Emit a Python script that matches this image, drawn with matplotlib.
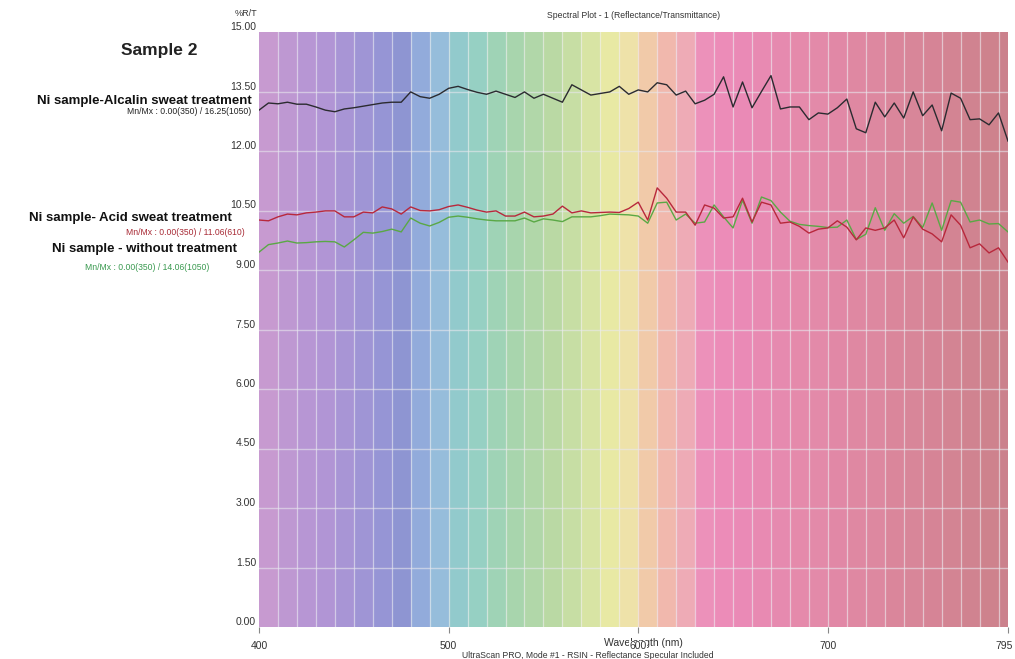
import matplotlib.pyplot as plt
import numpy as np

plt.rcParams['font.family'] = ['Liberation Sans', 'DejaVu Sans']

# wavelengths every 5 nm
wavelength = list(range(400, 800, 5))

alcalin = [13.03, 13.21, 13.19, 13.23, 13.18, 13.18, 13.11, 13.03, 12.99, 13.06,
           13.09, 13.13, 13.17, 13.21, 13.23, 13.23, 13.49, 13.37, 13.33, 13.43,
           13.58, 13.63, 13.55, 13.48, 13.43, 13.51, 13.43, 13.35, 13.49, 13.33,
           13.43, 13.33, 13.23, 13.67, 13.54, 13.41, 13.45, 13.49, 13.63, 13.43,
           13.54, 13.49, 13.72, 13.67, 13.41, 13.51, 13.19, 13.28, 13.43, 13.87,
           13.11, 13.74, 13.09, 13.50, 13.90, 13.06, 13.11, 13.11, 12.79, 12.96,
           12.93, 13.09, 13.31, 12.56, 12.46, 13.23, 12.86, 13.21, 12.83, 13.49,
           12.89, 13.16, 12.51, 13.46, 13.33, 12.79, 12.81, 12.66, 12.96, 12.25]

acid = [10.26, 10.24, 10.34, 10.41, 10.39, 10.44, 10.46, 10.49, 10.49, 10.34,
        10.34, 10.46, 10.44, 10.59, 10.54, 10.41, 10.59, 10.50, 10.49, 10.52,
        10.60, 10.64, 10.58, 10.51, 10.46, 10.49, 10.36, 10.36, 10.46, 10.34,
        10.36, 10.41, 10.61, 10.44, 10.49, 10.44, 10.45, 10.46, 10.45, 10.55,
        10.71, 10.26, 11.07, 10.81, 10.46, 10.46, 10.13, 10.64, 10.56, 10.31,
        10.34, 10.81, 10.21, 10.71, 10.64, 10.18, 10.21, 10.10, 9.93, 10.03,
        10.06, 10.24, 10.08, 9.76, 10.06, 10.00, 10.06, 10.26, 9.81, 10.34,
        10.03, 9.91, 9.71, 10.39, 10.13, 9.56, 9.66, 9.43, 9.56, 9.20]

untreated = [9.45, 9.64, 9.68, 9.73, 9.68, 9.69, 9.71, 9.72, 9.71, 9.58,
             9.76, 9.95, 9.93, 9.97, 10.03, 9.96, 10.31, 10.18, 10.11, 10.20,
             10.33, 10.36, 10.33, 10.29, 10.26, 10.24, 10.24, 10.24, 10.31, 10.21,
             10.29, 10.26, 10.22, 10.34, 10.34, 10.34, 10.37, 10.41, 10.40, 10.39,
             10.36, 10.18, 10.69, 10.71, 10.26, 10.41, 10.18, 10.21, 10.64, 10.34,
             10.06, 10.76, 10.18, 10.84, 10.75, 10.46, 10.23, 10.15, 10.12, 10.10,
             10.07, 10.08, 10.26, 9.77, 9.90, 10.57, 10.00, 10.42, 10.18, 10.35,
             10.07, 10.69, 10.00, 10.75, 10.71, 10.21, 10.26, 10.16, 10.17, 9.96]

# spectrum colour bands, 10 nm wide
band_start = list(range(400, 800, 10))
band_rgb = [(200, 150, 210), (190, 148, 212), (182, 146, 214), (175, 145, 215), (165, 145, 215),
            (155, 145, 215), (145, 145, 215), (135, 145, 212), (140, 170, 222), (145, 190, 222),
            (140, 205, 205), (145, 212, 195), (155, 215, 180), (165, 218, 170), (175, 220, 165),
            (185, 222, 160), (200, 228, 160), (220, 235, 160), (238, 240, 160), (245, 232, 165),
            (248, 205, 165), (248, 185, 170), (245, 170, 180), (242, 140, 185), (242, 135, 182),
            (240, 132, 180), (238, 132, 176), (236, 132, 172), (234, 132, 168), (232, 132, 165),
            (230, 130, 162), (228, 130, 158), (225, 130, 155), (222, 128, 150), (220, 128, 147),
            (217, 126, 144), (214, 125, 140), (211, 124, 137), (208, 123, 134), (205, 122, 132)]

y_ticks = [0, 1.5, 3, 4.5, 6, 7.5, 9, 10.5, 12, 13.5, 15]
x_ticks = [400, 500, 600, 700, 795]

W, H = 1015, 659
fig = plt.figure(figsize=(W / 100, H / 100), dpi=100)
ax = fig.add_axes([259 / W, 32 / H, 749 / W, 595 / H])

# slightly washed-out look of the scanned plot
grey = np.array([190, 180, 195]) / 255
for s, c in zip(band_start, band_rgb):
    col = 0.88 * np.array(c) / 255 + 0.12 * grey
    ax.axvspan(s, min(s + 10, 795), color=col, lw=0)
for s in band_start[1:]:
    ax.axvline(s, color='#f0f0f4', lw=0.9, alpha=0.6)
for v in y_ticks[1:-1]:
    ax.axhline(v, color='#e8e8ee', lw=1, alpha=0.6)

ax.plot(wavelength, alcalin, color='#2b2b30', lw=1)
ax.plot(wavelength, untreated, color='#5aa845', lw=1)
ax.plot(wavelength, acid, color='#b8283c', lw=1)

ax.set_xlim(400, 795)
ax.set_ylim(0, 15)
for sp in ax.spines.values():
    sp.set_visible(False)
ax.set_yticks([])
ax.set_xticks(x_ticks)
ax.set_xticklabels([])
ax.tick_params(axis='x', length=4, color='#888888')

# y labels sit just above their grid line
for v in y_ticks:
    ax.text(-0.004, v, '%.2f' % v, transform=ax.get_yaxis_transform(),
            ha='right', va='bottom', fontsize=7.5, color='#333333')

def px(x, y):
    return x / W, 1 - y / H

fig.text(*px(643, 643), 'Wavelength (nm)', ha='center', va='center', fontsize=7.5, color='#333333')
for t in x_ticks:
    xp = 259 + (t - 400) * 749 / 395
    if t == 795:
        xp -= 4
    bb = dict(facecolor='white', edgecolor='none', pad=0.3) if t == 600 else None
    fig.text(*px(xp, 646), str(t), ha='center', va='center', fontsize=7.5,
             color='#333333', bbox=bb)

fig.text(*px(588, 656), 'UltraScan PRO, Mode #1 - RSIN - Reflectance Specular Included',
         ha='center', va='center', fontsize=6.2, color='#333333')
fig.text(*px(634, 15), 'Spectral Plot - 1 (Reflectance/Transmittance)',
         ha='center', va='center', fontsize=6.2, color='#333333')
fig.text(*px(235, 13), '%R/T', ha='left', va='center', fontsize=6.5, color='#333333')

fig.text(*px(159, 51), 'Sample 2', ha='center', va='center', fontsize=12.5,
         fontweight='bold', color='#222222')
fig.text(*px(252, 101), 'Ni sample-Alcalin sweat treatment', ha='right', va='center',
         fontsize=9.5, fontweight='bold', color='#111111')
fig.text(*px(251, 112), 'Mn/Mx : 0.00(350) / 16.25(1050)', ha='right', va='center',
         fontsize=6.2, color='#222222')
fig.text(*px(232, 218), 'Ni sample- Acid sweat treatment', ha='right', va='center',
         fontsize=9.5, fontweight='bold', color='#111111')
fig.text(*px(245, 232), 'Mn/Mx : 0.00(350) / 11.06(610)', ha='right', va='center',
         fontsize=6.2, color='#a82a35')
fig.text(*px(237, 249), 'Ni sample - without treatment', ha='right', va='center',
         fontsize=9.5, fontweight='bold', color='#111111')
fig.text(*px(209, 267), 'Mn/Mx : 0.00(350) / 14.06(1050)', ha='right', va='center',
         fontsize=6.2, color='#3a9a50')

fig.savefig('out.png', dpi=100)
